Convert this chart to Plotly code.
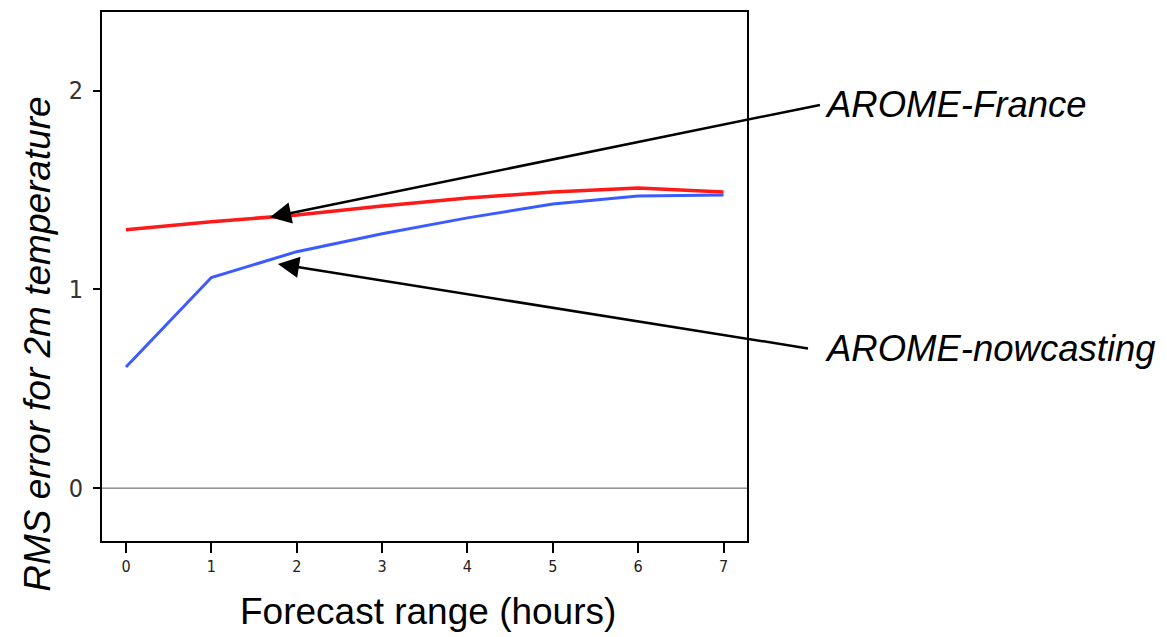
import plotly.graph_objects as go

# Data
hours = [0, 1, 2, 3, 4, 5, 6, 7]
arome_france = [1.30, 1.34, 1.375, 1.42, 1.46, 1.49, 1.51, 1.49]
arome_nowcasting = [0.61, 1.06, 1.19, 1.28, 1.36, 1.43, 1.47, 1.475]
x_ticks = [0, 1, 2, 3, 4, 5, 6, 7]
y_ticks = [0, 1, 2]

label_france = "AROME-France"
label_nowcasting = "AROME-nowcasting"
x_title = "Forecast range (hours)"
y_title = "RMS error for 2m temperature"

fig = go.Figure()
fig.add_trace(go.Scatter(x=hours, y=arome_france, mode="lines",
                         line=dict(color="#ff1a1a", width=3.5), showlegend=False))
fig.add_trace(go.Scatter(x=hours, y=arome_nowcasting, mode="lines",
                         line=dict(color="#3b5bff", width=3), showlegend=False))

# zero line
fig.add_hline(y=0, line=dict(color="#555555", width=1))

narrow = "Liberation Sans Narrow, DejaVu Sans Condensed, Arial, sans-serif"

fig.update_xaxes(range=[-0.281, 7.275], tickvals=x_ticks, ticktext=[str(v) for v in x_ticks],
                 showgrid=False, zeroline=False, showline=True, mirror=True,
                 linecolor="black", linewidth=2, ticks="outside", ticklen=10,
                 tickwidth=2, tickcolor="black",
                 tickfont=dict(family=narrow, size=16, color="#222222"))
fig.update_yaxes(range=[-0.266, 2.396], tickvals=y_ticks, ticktext=[str(v) for v in y_ticks],
                 showgrid=False, zeroline=False, showline=True, mirror=True,
                 linecolor="black", linewidth=2, ticks="outside", ticklen=7,
                 tickwidth=2, tickcolor="black", ticklabelstandoff=5,
                 tickfont=dict(family=narrow, size=25, color="#333333"))

# arrows (data coords)
arrow_specs = [
    (1.686, 1.363, 8.147, 1.930),
    (1.779, 1.128, 8.007, 0.702),
]
for (tx, ty, sx, sy) in arrow_specs:
    fig.add_annotation(x=tx, y=ty, ax=sx, ay=sy, xref="x", yref="y", axref="x", ayref="y",
                       text="", showarrow=True, arrowhead=2, arrowsize=1.7,
                       arrowwidth=2.5, arrowcolor="black")

font_main = "Arial, Liberation Sans, sans-serif"
fig.add_annotation(x=1.118, y=0.825, xref="paper", yref="paper", text=f"<i>{label_france}</i>",
                   showarrow=False, xanchor="left", yanchor="middle",
                   font=dict(family=font_main, size=36.5, color="black"))
fig.add_annotation(x=1.118, y=0.3635, xref="paper", yref="paper", text=f"<i>{label_nowcasting}</i>",
                   showarrow=False, xanchor="left", yanchor="middle",
                   font=dict(family=font_main, size=36.5, color="black"))
fig.add_annotation(x=-0.099, y=0.373, xref="paper", yref="paper", text=f"<i>{y_title}</i>",
                   textangle=-90, showarrow=False, xanchor="center", yanchor="middle",
                   font=dict(family=font_main, size=37, color="black"))
fig.add_annotation(x=0.505, y=-0.134, xref="paper", yref="paper", text=x_title,
                   showarrow=False, xanchor="center", yanchor="middle",
                   font=dict(family=font_main, size=37, color="black"))

fig.update_layout(width=1167, height=637,
                  margin=dict(l=102, r=419.5, t=10, b=96),
                  paper_bgcolor="white", plot_bgcolor="white")

fig.write_html("out.html")
